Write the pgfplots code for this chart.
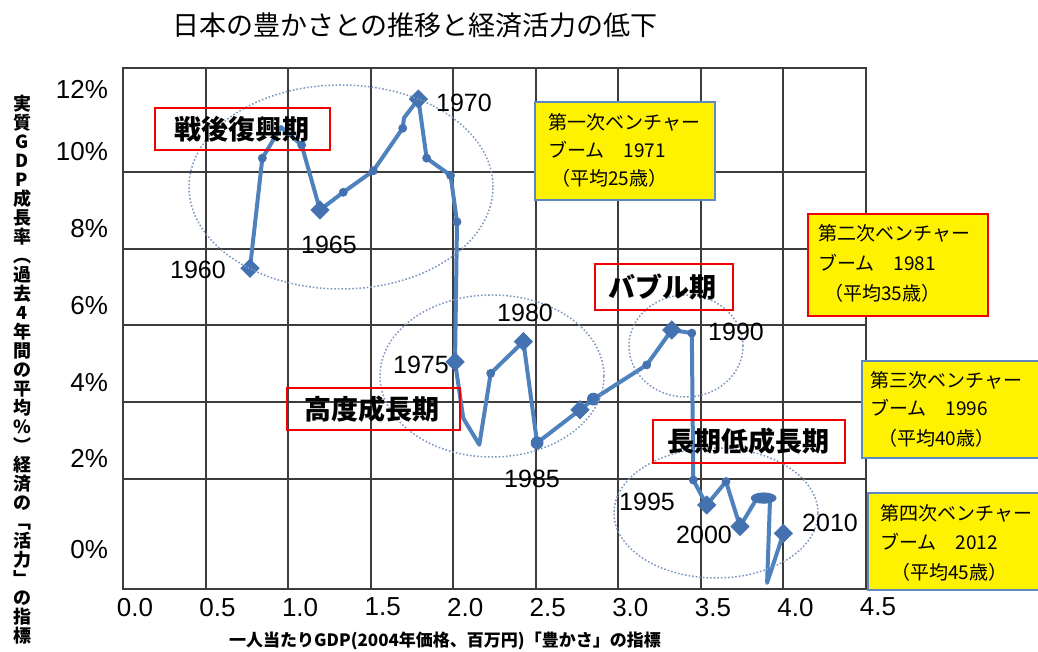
\documentclass[border=0pt]{standalone}
\usepackage{fontspec}
\setmainfont{Liberation Sans}
\newfontfamily\cjk{Noto Sans CJK JP}
\usepackage{pgfplots}
\pgfplotsset{compat=1.18}
\definecolor{lineblue}{RGB}{79,129,189}
\definecolor{markblue}{RGB}{68,114,176}
\definecolor{ellblue}{RGB}{125,150,192}
\definecolor{boxblue}{RGB}{95,135,195}
\definecolor{boxred}{RGB}{240,0,0}
\definecolor{gridc}{RGB}{60,60,60}
\begin{document}
\begin{tikzpicture}
\useasboundingbox (0,0) rectangle (519pt,326pt);
\begin{axis}[
  at={(61.5pt,31.5pt)}, anchor=south west,
  scale only axis, width=371.5pt, height=260.5pt,
  xmin=0, xmax=4.5, ymin=-0.87, ymax=12.71,
  xtick={0,0.5,1,1.5,2,2.5,3,3.5,4,4.5},
  xticklabels={0.0,0.5,1.0,1.5,2.0,2.5,3.0,3.5,4.0,4.5},
  ytick={2,4,6,8,10},
  yticklabels={2\%,4\%,6\%,8\%,10\%},
  extra y ticks={0,12},
  extra y tick labels={0\%,12\%},
  extra y tick style={grid=none, yticklabel style={yshift=-7pt}},
  xmajorgrids, ymajorgrids,
  grid style={gridc, line width=1pt},
  axis line style={gridc, line width=1pt},
  major tick length=0pt,
  /pgf/number format/assume math mode=true,
  tick label style={font=\fontsize{13}{13}\selectfont, black},
  xticklabel style={xshift=6pt, yshift=-1pt},
  yticklabel style={xshift=-4pt, yshift=10pt},
  clip=false,
]
% main line
\addplot[lineblue, line width=2pt, line join=round] coordinates {
(0.769,7.49) (0.844,10.36) (0.957,11.17) (1.082,10.70) (1.193,9.01)
(1.334,9.47) (1.516,10.03) (1.694,11.14) (1.702,11.41) (1.789,11.90)
(1.839,10.36) (1.984,9.91) (2.023,8.70) (2.011,5.05) (2.061,3.58)
(2.158,2.89) (2.227,4.75) (2.425,5.58) (2.508,2.94) (2.768,3.80)
(2.849,4.08) (3.172,4.97) (3.323,5.88) (3.445,5.80) (3.454,1.97)
(3.535,1.32) (3.652,1.93) (3.737,0.76) (3.840,1.50) (3.919,1.50)
(3.901,-0.71) (4.000,0.58)
};
% small dots
\addplot[only marks, mark=*, mark size=2pt, markblue] coordinates {
(0.844,10.36) (1.082,10.70) (1.334,9.47) (1.516,10.03) (1.694,11.14)
(1.839,10.36) (1.984,9.91) (2.023,8.70) (2.227,4.75) (3.172,4.97)
(3.445,5.80) (3.454,1.97) (3.652,1.93)
};
% larger dots
\addplot[only marks, mark=*, mark size=3pt, markblue] coordinates {
(2.508,2.94) (2.849,4.08)
};
% pill-shaped cluster
\addplot[only marks, mark=*, mark size=2.6pt, mark options={xscale=2.4}, markblue] coordinates {
(3.880,1.50)
};
% diamonds
\addplot[only marks, mark=square*, mark size=3.2pt, mark options={rotate=45}, markblue] coordinates {
(0.769,7.49) (1.193,9.01) (1.789,11.90) (2.011,5.05) (2.425,5.58)
(2.768,3.80) (3.323,5.88) (3.535,1.32) (3.737,0.76) (4.000,0.58)
};
\end{axis}
\begin{scope}[x=0.5pt, y=-0.5pt, shift={(0pt,326pt)}]
  % title
  \node[font=\cjk\fontsize{13.5}{13.5}\selectfont] at (415,25) {日本の豊かさとの推移と経済活力の低下};
  % y label (vertical)
  \node[anchor=north, align=center, inner sep=0pt, font=\cjk\bfseries\fontsize{9}{9.5}\selectfont]
    at (22,95) {実\\質\\G\\D\\P\\成\\長\\率\\︵\\過\\去\\4\\年\\間\\の\\平\\均\\\%\\︶\\経\\済\\の\\﹁\\活\\力\\﹂\\の\\指\\標};
  % x label
  \node[font=\cjk\bfseries\fontsize{8.5}{8.5}\selectfont] at (445,641) {一人当たりGDP(2004年価格、百万円)「豊かさ」の指標};
  % ellipses
  \begin{scope}[ellblue, line width=0.75pt, dash pattern=on 0.8pt off 1pt]
    \draw (341,187) ellipse [x radius=76pt, y radius=51pt];
    \draw (492,376) ellipse [x radius=56pt, y radius=40.5pt];
    \draw (686,346) ellipse [x radius=28.5pt, y radius=25.5pt];
    \draw (716,513) ellipse [x radius=51pt, y radius=32.5pt];
  \end{scope}
  % year labels
  \begin{scope}[font=\fontsize{12.5}{12.5}\selectfont]
    \node at (198,270) {1960};
    \node at (329,245) {1965};
    \node at (464,103) {1970};
    \node at (421,365) {1975};
    \node at (525,313) {1980};
    \node at (532,479) {1985};
    \node at (736,332) {1990};
    \node at (647,502) {1995};
    \node at (704,535) {2000};
    \node at (830,523) {2010};
  \end{scope}
  % red framed period labels
  \begin{scope}[boxred, line width=1pt]
    \draw (155,108) rectangle (330,150);
    \draw (287,388) rectangle (460,430);
    \draw (595,264) rectangle (733,310);
    \draw (653,420) rectangle (845,463);
  \end{scope}
  \begin{scope}[font=\cjk\bfseries\fontsize{13.5}{13.5}\selectfont]
    \node at (242,129) {戦後復興期};
    \node at (372,409) {高度成長期};
    \node at (662,287) {バブル期};
    \node at (748,441) {長期低成長期};
  \end{scope}
  % yellow boxes
  \draw[boxblue, line width=1pt, fill=yellow] (535,102) rectangle (715,200);
  \draw[boxred, line width=1pt, fill=yellow] (808,214) rectangle (988,316);
  \draw[boxblue, line width=1pt, fill=yellow] (862,361) rectangle (1045,458);
  \draw[boxblue, line width=1pt, fill=yellow] (868,493) rectangle (1045,590);
  \begin{scope}[font=\cjk\fontsize{9.5}{9.5}\selectfont, inner sep=0pt]
    \node[anchor=west] at (548,122) {第一次ベンチャー};
    \node[anchor=west] at (548,150) {ブーム　1971};
    \node[anchor=west] at (551,178) {（平均25歳）};
    \node[anchor=west] at (818,233) {第二次ベンチャー};
    \node[anchor=west] at (818,263) {ブーム　1981};
    \node[anchor=west] at (824,293) {（平均35歳）};
    \node[anchor=west] at (870,380) {第三次ベンチャー};
    \node[anchor=west] at (870,408) {ブーム　1996};
    \node[anchor=west] at (878,438) {（平均40歳）};
    \node[anchor=west] at (880,513) {第四次ベンチャー};
    \node[anchor=west] at (880,542) {ブーム　2012};
    \node[anchor=west] at (891,572) {（平均45歳）};
  \end{scope}
\end{scope}
\end{tikzpicture}
\end{document}
